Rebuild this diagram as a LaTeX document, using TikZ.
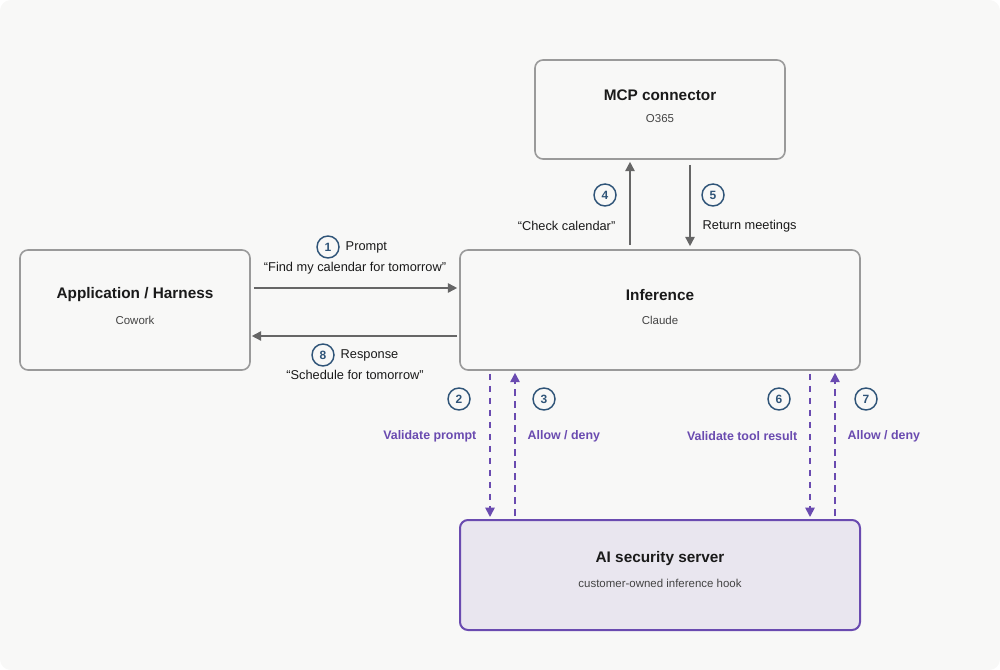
\documentclass[tikz,border=0pt]{standalone}
\usepackage{fontspec}
\setmainfont{Liberation Sans}
\usetikzlibrary{arrows.meta,calc}
\definecolor{bg}{HTML}{F8F8F7}
\definecolor{boxline}{HTML}{9A9A9A}
\definecolor{arrowgray}{HTML}{666666}
\definecolor{purp}{HTML}{6A4BB0}
\definecolor{purpfill}{HTML}{E9E6EF}
\definecolor{numblue}{HTML}{2F5478}
\definecolor{txt}{HTML}{1A1A1A}
\definecolor{subtxt}{HTML}{444444}
\begin{document}
\begin{tikzpicture}[x=0.75pt,y=-0.75pt,
  box/.style={draw=boxline,line width=1.2pt,rounded corners=6pt,fill=bg,inner sep=0pt},
  secbox/.style={draw=purp,line width=1.5pt,rounded corners=6pt,fill=purpfill,inner sep=0pt},
  title/.style={font=\fontsize{11.5}{13}\selectfont\bfseries,text=txt},
  sub/.style={font=\fontsize{8.6}{10}\selectfont,text=subtxt},
  lbl/.style={font=\fontsize{9.6}{11}\selectfont,text=txt},
  plbl/.style={font=\fontsize{9.3}{11}\selectfont\bfseries,text=purp},
  num/.style={circle,draw=numblue,line width=1.1pt,minimum size=16.5pt,inner sep=0pt,font=\fontsize{9}{11}\selectfont\bfseries,text=numblue},
  garrow/.style={draw=arrowgray,line width=1.2pt,-{Triangle[length=7pt,width=7pt]}},
  parrow/.style={draw=purp,line width=1.3pt,dash pattern=on 5pt off 4pt,-{Triangle[length=7pt,width=7pt]}}
]
\fill[bg,rounded corners=8pt] (0,0) rectangle (1000,670);
\useasboundingbox (0,0) rectangle (1000,670);

% boxes
\node[box,minimum width=172.5pt,minimum height=90pt] (app) at (135,310) {};
\node[title] at (135,295) {Application / Harness};
\node[sub] at (135,320) {Cowork};

\node[box,minimum width=300pt,minimum height=90pt] (inf) at (660,310) {};
\node[title] at (660,295) {Inference};
\node[sub] at (660,320) {Claude};

\node[box,minimum width=187.5pt,minimum height=74.25pt] (mcp) at (660,109.5) {};
\node[title] at (660,95) {MCP connector};
\node[sub] at (660,119) {O365};

\node[secbox,minimum width=300pt,minimum height=82.5pt] (sec) at (660,575) {};
\node[title] at (660,559) {AI security server};
\node[sub] at (660,583) {customer-owned inference hook};

% connectors
\draw[garrow] ($(app.east)+(3,-22)$) -- ($(inf.west)+(-2,-22)$);
\draw[garrow] ($(inf.west)+(-2,26)$) -- ($(app.east)+(1,26)$);
\draw[garrow] ($(inf.north)+(-30,-4)$) -- ($(mcp.south)+(-30,2)$);
\draw[garrow] ($(mcp.south)+(30,5)$) -- ($(inf.north)+(30,-3)$);
\draw[parrow] ($(inf.south)+(-170,3)$) -- ($(sec.north)+(-170,-2)$);
\draw[parrow] ($(sec.north)+(-145,-3)$) -- ($(inf.south)+(-145,2)$);
\draw[parrow] ($(inf.south)+(150,3)$) -- ($(sec.north)+(150,-2)$);
\draw[parrow] ($(sec.north)+(175,-3)$) -- ($(inf.south)+(175,2)$);

% labels
\node[num] (n1) at (328,247) {1};
\node[lbl,anchor=west] (l1) at (341,247) {Prompt};
\node[lbl] (q1) at (355,268) {“Find my calendar for tomorrow”};

\node[num] (n8) at (323,355) {8};
\node[lbl,anchor=west] (l8) at (336,355) {Response};
\node[lbl] (q8) at (355,375) {“Schedule for tomorrow”};

\node[num] (n4) at (605,195) {4};
\node[lbl,anchor=east] (l4) at (620,226) {“Check calendar”};
\node[num] (n5) at (713,195) {5};
\node[lbl,anchor=west] (l5) at (698,226) {Return meetings};

\node[num] (n2) at (459,399) {2};
\node[plbl,anchor=east] (l2) at (481,436) {Validate prompt};
\node[num] (n3) at (544,399) {3};
\node[plbl,anchor=west] (l3) at (523,436) {Allow / deny};

\node[num] (n6) at (779,399) {6};
\node[plbl,anchor=east] (l6) at (802,436) {Validate tool result};
\node[num] (n7) at (866,399) {7};
\node[plbl,anchor=west] (l7) at (843,436) {Allow / deny};
\end{tikzpicture}
\end{document}
